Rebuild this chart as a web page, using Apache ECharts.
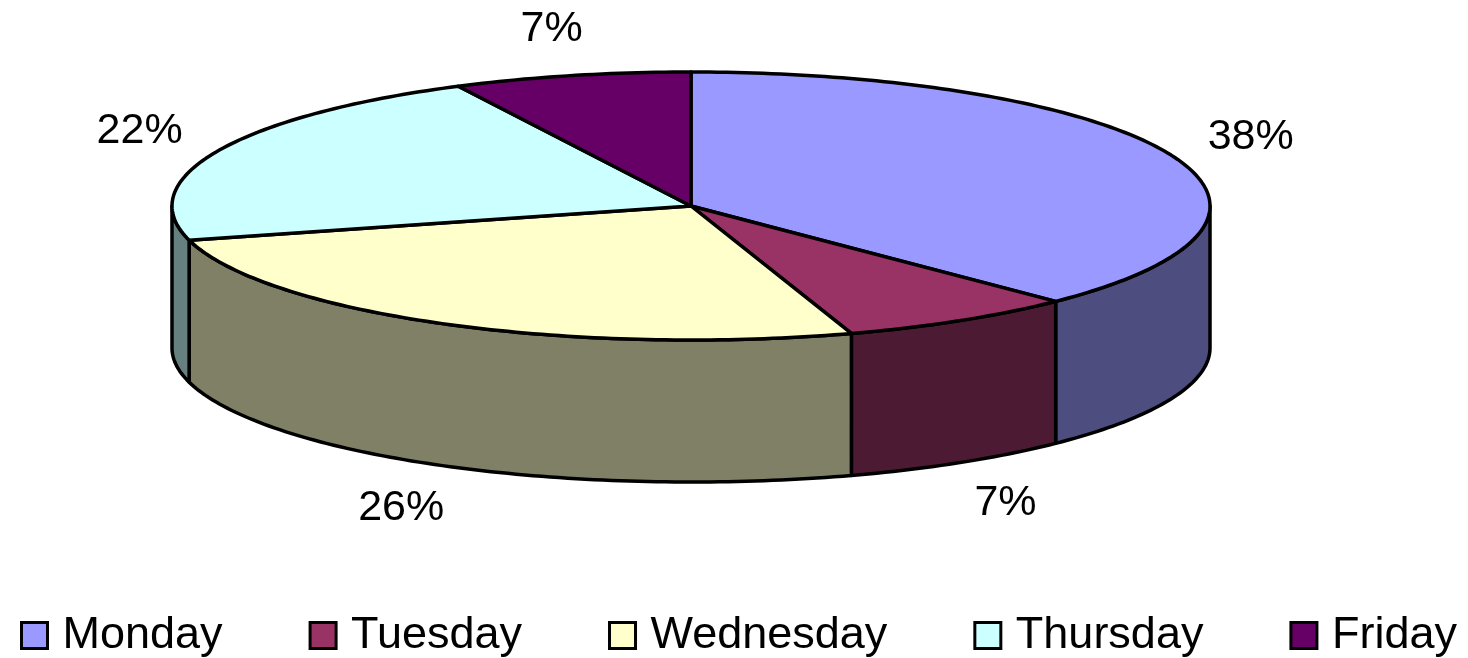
<!DOCTYPE html>
<html>
<head>
<meta charset="utf-8">
<script src="https://cdn.jsdelivr.net/npm/echarts@6/dist/echarts.min.js"></script>
<style>
  html, body { margin: 0; padding: 0; background: #fff; }
  #chart { width: 1468px; height: 658px; }
</style>
</head>
<body>
<div id="chart"></div>
<script>
// data (percent shares, labels show them rounded)
const days = ["Monday", "Tuesday", "Wednesday", "Thursday", "Friday"];
const shares = [37.6, 7.4, 25.9, 21.7, 7.4];

// colours (top face / side wall)
const topColors = ["#9999FF", "#993366", "#FFFFCC", "#CCFFFF", "#660066"];
const sideColors = ["#4D4D80", "#4D1A33", "#808066", "#668080", "#330033"];

// ellipse geometry, in axis units (axes span the whole canvas)
const cx = 691, cy = 206, rx = 519, ry = 134, depth = 142;
const labelRx = 605, labelRy = 182;

let starts = [];
let acc = 0;
shares.forEach(v => { starts.push(acc); acc += v; });

function renderItem(params, api) {
  let s = api.value(0);
  let v = api.value(1);
  let i = params.seriesIndex;
  let a0 = s / 100 * 360;
  let a1 = (s + v) / 100 * 360;

  function pt(deg, drop, rxx, ryy) {
    let r = deg * Math.PI / 180;
    return api.coord([cx + (rxx || rx) * Math.sin(r), cy - (ryy || ry) * Math.cos(r) + (drop || 0)]);
  }
  function arc(from, to, drop) {
    let pts = [];
    let n = Math.max(2, Math.ceil(Math.abs(to - from)));
    for (let k = 0; k <= n; k++) pts.push(pt(from + (to - from) * k / n, drop));
    return pts;
  }

  let children = [];
  let line = { stroke: "#000", lineWidth: 3.5, lineJoin: "round" };

  // side wall, only the front half is visible
  let lo = Math.max(a0, 90), hi = Math.min(a1, 270);
  if (lo < hi) {
    children.push({
      type: "polygon",
      z2: 1,
      shape: { points: arc(lo, hi, 0).concat(arc(hi, lo, depth)) },
      style: Object.assign({ fill: sideColors[i] }, line)
    });
  }

  // top face
  children.push({
    type: "polygon",
    z2: 5,
    shape: { points: [api.coord([cx, cy])].concat(arc(a0, a1, 0)) },
    style: Object.assign({ fill: topColors[i] }, line)
  });

  // percentage label
  let mid = (a0 + a1) / 2;
  let drop = Math.cos(mid * Math.PI / 180) < 0 ? depth : 0;
  let lp = pt(mid, drop, labelRx, labelRy);
  children.push({
    type: "text",
    z2: 10,
    x: lp[0],
    y: lp[1],
    style: {
      text: Math.round(v) + "%",
      fill: "#000",
      font: "43px 'Liberation Sans', Arial, sans-serif",
      align: "center",
      verticalAlign: "middle"
    }
  });

  return { type: "group", children: children };
}

let myChart = echarts.init(document.getElementById("chart"));

myChart.setOption({
  animation: false,
  grid: { left: 0, right: 0, top: 0, bottom: 0 },
  xAxis: { type: "value", min: 0, max: 1468, show: false },
  yAxis: { type: "value", min: 0, max: 658, inverse: true, show: false },
  legend: {
    bottom: -5,
    left: 15,
    itemWidth: 26,
    itemHeight: 26,
    itemGap: 86,
    icon: "rect",
    itemStyle: { borderColor: "#000", borderWidth: 3 },
    textStyle: {
      fontSize: 45,
      fontFamily: "'Liberation Sans', Arial, sans-serif",
      color: "#000",
      padding: [0, 0, 0, 10]
    },
    data: days
  },
  series: days.map((d, i) => ({
    name: d,
    type: "custom",
    renderItem: renderItem,
    itemStyle: { color: topColors[i] },
    data: [[starts[i], shares[i]]]
  }))
});
</script>
</body>
</html>
